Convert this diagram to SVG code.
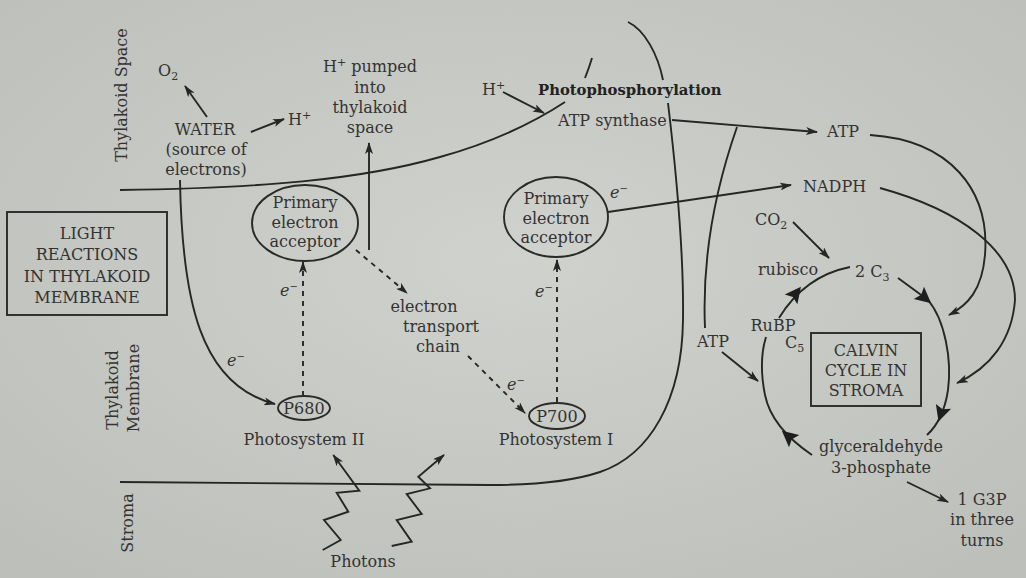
<svg xmlns="http://www.w3.org/2000/svg" width="1026" height="578" viewBox="0 0 1026 578">
<defs>
<radialGradient id="bg" cx="50%" cy="45%" r="70%">
<stop offset="0" stop-color="#d0d2cd"/>
<stop offset="1" stop-color="#bdbfba"/>
</radialGradient>
<marker id="ah" viewBox="0 0 12 8" markerWidth="12" markerHeight="8" refX="11" refY="4" orient="auto" markerUnits="userSpaceOnUse">
<path d="M0,0 L12,4 L0,8 L3,4 z" fill="#262626"/>
</marker>
<path id="bigHead" d="M8,0 L-8,-8 L-5,0 L-8,8 z" fill="#1e1e1e"/>
</defs>
<style>
.t{font-family:"DejaVu Serif","Liberation Serif",serif;font-size:16px;fill:#333}
.c{text-anchor:middle}
.b{font-weight:bold;font-size:14.8px;fill:#222}
.ln{fill:none;stroke:#262626;stroke-width:1.9}
.d{stroke-dasharray:5 5}
.box{fill:none;stroke:#2a2a2a;stroke-width:1.9}
.i{font-style:italic}
</style>
<rect x="0" y="0" width="1026" height="578" fill="url(#bg)"/>

<g id="region-labels">
<text class="t c" x="127" y="95" transform="rotate(-90 127 95)">Thylakoid Space</text>
<text class="t c" x="118" y="390" transform="rotate(-90 118 390)">Thylakoid</text>
<text class="t c" x="139" y="388" transform="rotate(-90 139 388)">Membrane</text>
<text class="t c" x="133" y="523" transform="rotate(-90 133 523)">Stroma</text>
</g>

<g id="membrane">
<path class="ln" d="M120,190 C260,188 360,180 440,157 C490,143 530,125 565,102"/>
<path class="ln" d="M585,78 Q589,68 592,58"/>
<path class="ln" d="M628,22 C645,30 658,55 663,80"/>
<path class="ln" d="M668,103 C676,170 684,250 683,320 C682,400 650,455 600,472 C570,482 530,485 490,485 L120,482"/>
</g>

<g id="connectors">
<path class="ln" d="M207,117 L185,86" marker-end="url(#ah)"/>
<path class="ln" d="M251,132 L284,119" marker-end="url(#ah)"/>
<path class="ln" d="M369,250 L369,143" marker-end="url(#ah)"/>
<path class="ln" d="M180,180 C182,300 200,385 275,404" marker-end="url(#ah)"/>
<path class="ln d" d="M303,396 L303,262" marker-end="url(#ah)"/>
<path class="ln d" d="M356,250 L407,293" marker-end="url(#ah)"/>
<path class="ln d" d="M468,356 L525,413" marker-end="url(#ah)"/>
<path class="ln d" d="M557,402 L557,260" marker-end="url(#ah)"/>
<path class="ln" d="M608,212 L791,185" marker-end="url(#ah)"/>
<path class="ln" d="M503,92 L544,113" marker-end="url(#ah)"/>
<path class="ln" d="M672,120 L817,132" marker-end="url(#ah)"/>
<path class="ln" d="M737,127 C715,190 702,260 705,328"/>
<path class="ln" d="M722,352 L758,381" marker-end="url(#ah)"/>
<path class="ln" d="M870,135 C950,140 990,190 985,255 C982,290 968,305 949,315" marker-end="url(#ah)"/>
<path class="ln" d="M880,188 C960,210 1015,250 1015,300 C1012,340 990,368 957,383" marker-end="url(#ah)"/>
<path class="ln" d="M793,222 L829,258" marker-end="url(#ah)"/>
<path class="ln" d="M779,318 C790,300 810,275 850,267"/>
<path class="ln" d="M898,278 L928,300 C945,320 952,360 948,390 C945,410 938,425 927,435"/>
<path class="ln" d="M812,455 C790,440 770,420 765,395 C760,370 762,350 766,337"/>
<path class="ln" d="M907,482 L948,502" marker-end="url(#ah)"/>
<use href="#bigHead" transform="translate(796,293) rotate(-52)"/>
<use href="#bigHead" transform="translate(925,298) rotate(40)"/>
<use href="#bigHead" transform="translate(941,414) rotate(108)"/>
<use href="#bigHead" transform="translate(788,436) rotate(-140)"/>
<path class="ln" d="M322.7,550 L340.7,540 L324,520 L348.3,511.7 L336.7,492.7 L359.3,490.7 L333.3,455" marker-end="url(#ah)"/>
<path class="ln" d="M391.7,546 L411.7,541.7 L396.7,520 L421.7,514 L406.7,494 L430,488.3 L418.3,476.7 L444,455" marker-end="url(#ah)"/>
</g>

<g id="o2"><text class="t" x="158" y="76">O<tspan dy="4" font-size="11">2</tspan></text></g>
<g id="water">
<text class="t c" x="205" y="135">WATER</text>
<text class="t c" x="206" y="155">(source of</text>
<text class="t c" x="206" y="175">electrons)</text>
</g>
<g id="hplus1"><text class="t" x="288" y="125">H<tspan dy="-6" font-size="11">+</tspan></text></g>
<g id="hpumped">
<text class="t c" x="370" y="72">H<tspan dy="-6" font-size="11">+</tspan><tspan dy="6"> pumped</tspan></text>
<text class="t c" x="370" y="93">into</text>
<text class="t c" x="370" y="113">thylakoid</text>
<text class="t c" x="370" y="133">space</text>
</g>
<g id="light-box">
<rect class="box" x="7" y="212" width="160" height="103"/>
<text class="t c" x="87" y="239">LIGHT</text>
<text class="t c" x="87" y="260">REACTIONS</text>
<text class="t c" x="87" y="282">IN THYLAKOID</text>
<text class="t c" x="87" y="303">MEMBRANE</text>
</g>
<g id="acceptor1">
<ellipse class="box" cx="305" cy="223" rx="53" ry="38"/>
<text class="t c" x="305" y="208">Primary</text>
<text class="t c" x="305" y="228">electron</text>
<text class="t c" x="305" y="247">acceptor</text>
</g>
<g id="p680">
<ellipse class="box" cx="304" cy="408" rx="26" ry="12"/>
<text class="t c" x="304" y="414">P680</text>
</g>
<g id="ps2"><text class="t c" x="304" y="445">Photosystem  II</text></g>
<g id="etc">
<text class="t c" x="424" y="312">electron</text>
<text class="t c" x="441" y="332">transport</text>
<text class="t c" x="438" y="352">chain</text>
</g>
<g id="p700">
<ellipse class="box" cx="557" cy="416" rx="28" ry="13"/>
<text class="t c" x="557" y="422">P700</text>
</g>
<g id="ps1"><text class="t c" x="556" y="445">Photosystem  I</text></g>
<g id="acceptor2">
<ellipse class="box" cx="556" cy="217" rx="52" ry="40"/>
<text class="t c" x="556" y="204">Primary</text>
<text class="t c" x="556" y="224">electron</text>
<text class="t c" x="556" y="243">acceptor</text>
</g>
<g id="electron-labels">
<text class="t" x="227" y="366"><tspan class="i">e</tspan><tspan dy="-6" font-size="10">−</tspan></text>
<text class="t" x="280" y="296"><tspan class="i">e</tspan><tspan dy="-6" font-size="10">−</tspan></text>
<text class="t" x="535" y="297"><tspan class="i">e</tspan><tspan dy="-6" font-size="10">−</tspan></text>
<text class="t" x="507" y="390"><tspan class="i">e</tspan><tspan dy="-6" font-size="10">−</tspan></text>
<text class="t" x="610" y="198"><tspan class="i">e</tspan><tspan dy="-6" font-size="10">−</tspan></text>
</g>
<g id="hplus2"><text class="t" x="482" y="95">H<tspan dy="-6" font-size="11">+</tspan></text></g>
<g id="photophosphorylation"><text class="t b" x="538" y="95">Photophosphorylation</text></g>
<g id="atp-synthase"><text class="t" x="558" y="126">ATP synthase</text></g>
<g id="atp-top"><text class="t" x="827" y="137">ATP</text></g>
<g id="nadph"><text class="t" x="803" y="192">NADPH</text></g>
<g id="co2"><text class="t" x="755" y="225">CO<tspan dy="4" font-size="11">2</tspan></text></g>
<g id="rubisco"><text class="t c" x="788" y="275">rubisco</text></g>
<g id="c3"><text class="t" x="855" y="277">2 C<tspan dy="4" font-size="11">3</tspan></text></g>
<g id="rubp">
<text class="t c" x="773" y="331">RuBP</text>
<text class="t" x="785" y="348">C<tspan dy="4" font-size="11">5</tspan></text>
</g>
<g id="atp-calvin"><text class="t c" x="713" y="347">ATP</text></g>
<g id="calvin">
<rect class="box" x="811" y="333" width="110" height="73"/>
<text class="t c" x="866" y="356">CALVIN</text>
<text class="t c" x="866" y="376">CYCLE IN</text>
<text class="t c" x="866" y="396">STROMA</text>
</g>
<g id="g3p">
<text class="t c" x="881" y="452">glyceraldehyde</text>
<text class="t c" x="881" y="473">3-phosphate</text>
</g>
<g id="output">
<text class="t c" x="982" y="505">1 G3P</text>
<text class="t c" x="982" y="525">in three</text>
<text class="t c" x="982" y="546">turns</text>
</g>
<g id="photons"><text class="t c" x="363" y="567">Photons</text></g>
</svg>
